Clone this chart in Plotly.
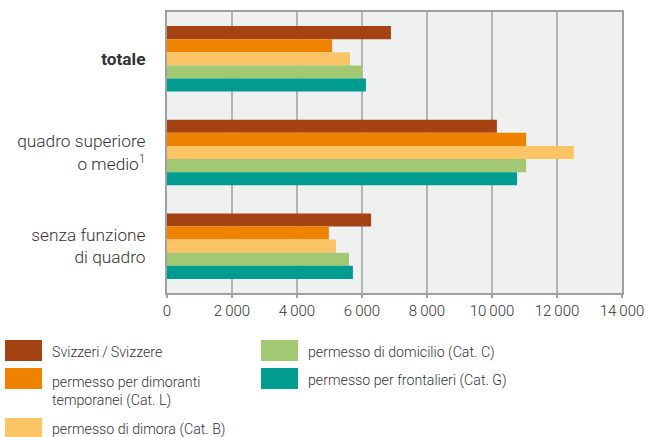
import plotly.graph_objects as go

categories = ["<b>totale</b>", "quadro superiore<br>o medio<sup>1</sup>", "senza funzione<br>di quadro"]
series_names = [
    "Svizzeri\u2009/\u2009Svizzere",
    "permesso per dimoranti<br>temporanei (Cat. L)",
    "permesso di dimora (Cat. B)",
    "permesso di domicilio (Cat. C)",
    "permesso per frontalieri (Cat. G)",
]
svizzeri = [6890, 10150, 6280]
cat_l = [5080, 11050, 4980]
cat_b = [5630, 12520, 5200]
cat_c = [6000, 11050, 5600]
cat_g = [6120, 10770, 5720]
values = [svizzeri, cat_l, cat_b, cat_c, cat_g]
colors = ["#a54314", "#ef8300", "#fbc566", "#a3c873", "#009c8f"]
x_tickvals = [0, 2000, 4000, 6000, 8000, 10000, 12000, 14000]
x_ticktext = ["0", "2\u2009000", "4\u2009000", "6\u2009000", "8\u2009000", "10\u2009000", "12\u2009000", "14\u2009000"]

FONT = "Roboto"
TXT = "#333333"

fig = go.Figure()
for name, vals, col in zip(series_names, values, colors):
    fig.add_trace(go.Bar(y=categories, x=vals, name=name, orientation="h",
                         marker=dict(color=col, line=dict(width=0)), showlegend=False))

# legend drawn manually (large swatches, two columns)
legend_pos = [  # (swatch left px, swatch top px, text centre y px)
    (5, 340, 352),
    (5, 368, 391),
    (5, 418, 429),
    (261, 340, 352),
    (261, 368, 380),
]
W, H = 650, 437
L, R, T, B = 167, 622, 12, 293
shapes = []
annotations = []
for (sx, sy, ty), name, col in zip(legend_pos, series_names, colors):
    shapes.append(dict(type="rect", xref="paper", yref="paper",
                       x0=(sx - L) / (R - L), x1=(sx + 37 - L) / (R - L),
                       y0=(B - sy) / (B - T), y1=(B - sy - 21) / (B - T),
                       fillcolor=col, line=dict(width=0), layer="above"))
    annotations.append(dict(xref="paper", yref="paper", x=(sx + 45 - L) / (R - L),
                            y=(B - ty) / (B - T), xanchor="left", yanchor="middle",
                            text=name, showarrow=False, align="left",
                            font=dict(family=FONT, size=14.2, color=TXT, weight=300)))

fig.update_layout(
    width=W, height=H,
    margin=dict(l=L, r=W - R, t=T, b=H - B, autoexpand=False),
    paper_bgcolor="white", plot_bgcolor="#eff0f0",
    barmode="group", bargap=0.3, bargroupgap=0,
    font=dict(family=FONT, size=15, color=TXT, weight=300),
    shapes=shapes, annotations=annotations,
    xaxis=dict(range=[0, 14000], tickvals=x_tickvals, ticktext=x_ticktext,
               showgrid=True, gridcolor="#b4b4b4", gridwidth=1.5,
               showline=True, linecolor="#a0a0a0", linewidth=2, mirror=True,
               ticks="outside", ticklen=3, tickcolor="#a0a0a0", tickwidth=1.5,
               zeroline=False, tickfont=dict(family=FONT, size=15, color=TXT, weight=300)),
    yaxis=dict(autorange="reversed", showline=True, linecolor="#a0a0a0", linewidth=2, mirror=True,
               showgrid=False, ticks="", ticklabelstandoff=16,
               tickfont=dict(family=FONT, size=17.3, color=TXT, weight=300)),
)

fig.write_html("out.html", config={"displayModeBar": False},
               post_script="document.body.style.margin='0';document.body.style.padding='0';")
